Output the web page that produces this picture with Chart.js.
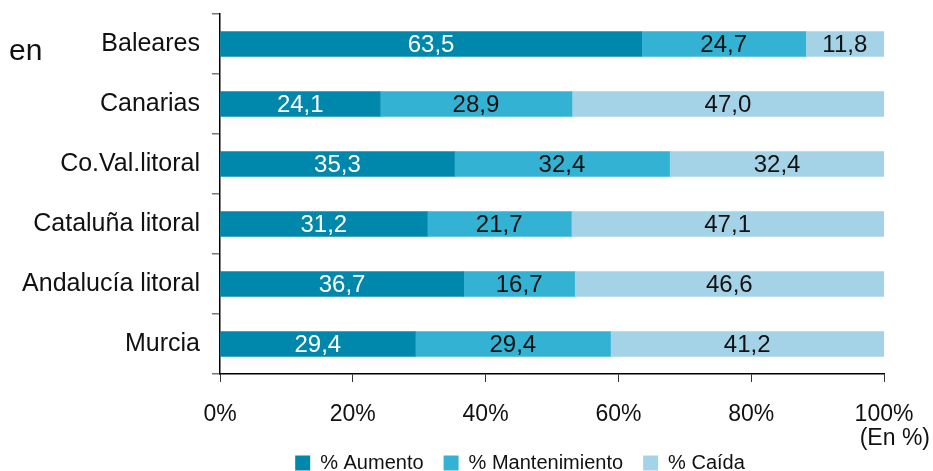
<!DOCTYPE html>
<html>
<head>
<meta charset="utf-8">
<script src="https://cdn.jsdelivr.net/npm/chart.js@4"></script>
<style>
  html, body { margin: 0; padding: 0; background: #fff; }
  #wrap { position: relative; width: 933px; height: 471px; }
  .note { position: absolute; font-family: "Liberation Sans", Arial, sans-serif; color: #111; }
</style>
</head>
<body>
<div id="wrap">
  <canvas id="chart" width="933" height="471"></canvas>
  <div class="note" style="left:9px; top:33px; font-size:30px;">en</div>
  <div class="note" style="right:3px; top:424px; font-size:23px;">(En %)</div>
</div>
<script>
// datos
const regiones = ['Baleares', 'Canarias', 'Co.Val.litoral', 'Cataluña litoral', 'Andalucía litoral', 'Murcia'];
const aumento = [63.5, 24.1, 35.3, 31.2, 36.7, 29.4];
const mantenimiento = [24.7, 28.9, 32.4, 21.7, 16.7, 29.4];
const caida = [11.8, 47.0, 32.4, 47.1, 46.6, 41.2];
const ticksX = [0, 20, 40, 60, 80, 100];

const colores = ['#0088AC', '#33B2D3', '#A4D3E8'];
const fuente = "'Liberation Sans', Arial, sans-serif";

// etiquetas con el valor dentro de cada barra
const etiquetasBarras = {
    id: 'etiquetasBarras',
    afterDatasetsDraw(chart) {
        const ctx = chart.ctx;
        ctx.save();
        ctx.font = '24px ' + fuente;
        ctx.textAlign = 'center';
        ctx.textBaseline = 'middle';
        chart.data.datasets.forEach((ds, i) => {
            chart.getDatasetMeta(i).data.forEach((bar, j) => {
                const v = ds.data[j];
                const x = (bar.x + bar.base) / 2;
                ctx.fillStyle = i === 0 ? '#ffffff' : '#111111';
                ctx.fillText(v.toFixed(1).replace('.', ','), x, bar.y + 1);
            });
        });
        ctx.restore();
    }
};

// la leyenda del original va algo desplazada a la derecha
const moverLeyenda = {
    id: 'moverLeyenda',
    afterLayout(chart) {
        if (chart.legend) {
            chart.legend.left += 78;
            chart.legend.right += 78;
        }
    }
};

new Chart(document.getElementById('chart'), {
    type: 'bar',
    data: {
        labels: regiones,
        datasets: [
            { label: '% Aumento', data: aumento, backgroundColor: colores[0] },
            { label: '% Mantenimiento', data: mantenimiento, backgroundColor: colores[1] },
            { label: '% Caída', data: caida, backgroundColor: colores[2] }
        ]
    },
    options: {
        indexAxis: 'y',
        responsive: false,
        animation: false,
        barThickness: 25,
        layout: { padding: { top: 14, right: 49, left: 0, bottom: -12 } },
        scales: {
            y: {
                stacked: true,
                afterFit: s => { s.width = 220; s.paddingTop = 0; s.paddingBottom = 0; },
                grid: { offset: true, drawOnChartArea: false, tickLength: 8, color: '#777', lineWidth: 1.5 },
                border: { color: '#000', width: 1.5 },
                ticks: { color: '#111', padding: 12, font: { family: fuente, size: 25 } }
            },
            x: {
                stacked: true,
                min: 0,
                max: 100,
                afterBuildTicks: s => { s.ticks = ticksX.map(v => ({ value: v })); },
                afterFit: s => { s.height = 59; s.paddingLeft = 0; s.paddingRight = 0; },
                grid: { drawOnChartArea: false, tickLength: 8, color: '#333', lineWidth: 1 },
                border: { color: '#000', width: 1.5 },
                ticks: {
                    color: '#111', padding: 19, maxRotation: 0,
                    font: { family: fuente, size: 23 },
                    callback: v => v + '%'
                }
            }
        },
        plugins: {
            legend: {
                position: 'bottom',
                labels: {
                    color: '#111', boxWidth: 15, boxHeight: 15, padding: 20,
                    font: { family: fuente, size: 20 }
                }
            },
            tooltip: { enabled: false }
        }
    },
    plugins: [etiquetasBarras, moverLeyenda]
});
</script>
</body>
</html>
